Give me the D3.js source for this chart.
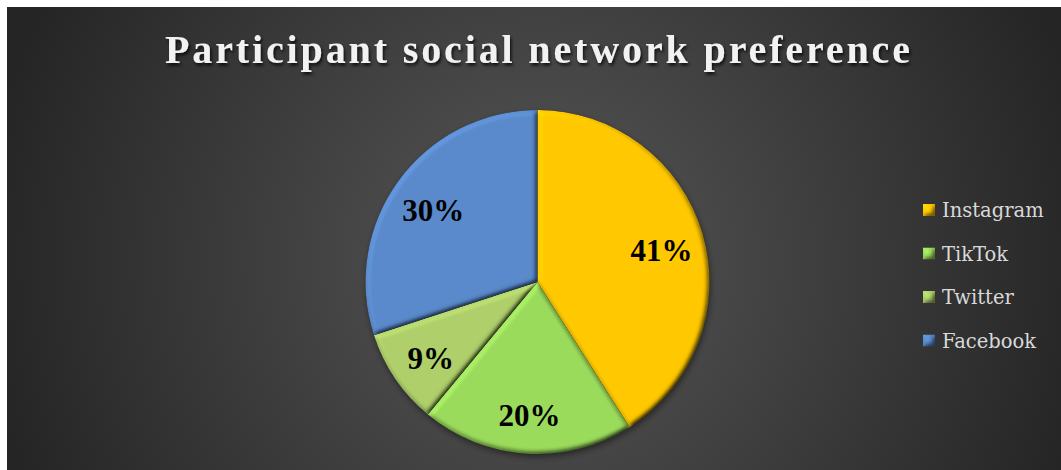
<!DOCTYPE html>
<html>
<head>
<meta charset="utf-8">
<script src="https://cdn.jsdelivr.net/npm/d3@7"></script>
<style>
  body{margin:0;background:#fff;}
  svg{display:block;}
</style>
</head>
<body>
<div id="chart"></div>
<script>
// data
const categories = ["Instagram", "TikTok", "Twitter", "Facebook"];
const values = [41, 20, 9, 30];
const title = "Participant social network preference";

let draw = function(){
    const width = 1061;
    const height = 470;
    const box = {x: 7, y: 7, w: 1054, h: 463};
    const cx = 537.5, cy = 282, radius = 172;

    const colorScale = d3.scaleOrdinal().domain(categories)
        .range(["#ffc800", "#9bdb5c", "#aecf6a", "#5a8acb"]);

    var svg = d3.select("#chart").append("svg").attr("width", width).attr("height", height);
    var defs = svg.append("defs");

    // background gradient
    var bg = defs.append("radialGradient").attr("id", "bg")
        .attr("gradientUnits", "userSpaceOnUse")
        .attr("cx", 540).attr("cy", 260).attr("r", 560);
    bg.append("stop").attr("offset", "0%").attr("stop-color", "#575757");
    bg.append("stop").attr("offset", "100%").attr("stop-color", "#252525");

    // bevel look on the slices
    var bevel = defs.append("filter").attr("id", "bevel")
        .attr("x", "-10%").attr("y", "-10%").attr("width", "120%").attr("height", "120%");
    bevel.append("feGaussianBlur").attr("in", "SourceAlpha").attr("stdDeviation", 2.5).attr("result", "blur");
    var light = bevel.append("feDiffuseLighting").attr("in", "blur").attr("surfaceScale", 4)
        .attr("lighting-color", "#ffffff").attr("result", "light");
    light.append("feDistantLight").attr("azimuth", 225).attr("elevation", 55);
    bevel.append("feComposite").attr("in", "light").attr("in2", "SourceAlpha").attr("operator", "in").attr("result", "lit");
    bevel.append("feComposite").attr("in", "SourceGraphic").attr("in2", "lit")
        .attr("operator", "arithmetic").attr("k1", 1.22).attr("k2", 0).attr("k3", 0).attr("k4", 0);

    var shadow = defs.append("filter").attr("id", "shadow")
        .attr("x", "-10%").attr("y", "-10%").attr("width", "130%").attr("height", "130%");
    shadow.append("feDropShadow").attr("dx", 1).attr("dy", 3).attr("stdDeviation", 3)
        .attr("flood-color", "#000").attr("flood-opacity", 0.45);

    var tshadow = defs.append("filter").attr("id", "tshadow")
        .attr("x", "-5%").attr("y", "-20%").attr("width", "110%").attr("height", "150%");
    tshadow.append("feDropShadow").attr("dx", 1.5).attr("dy", 2.5).attr("stdDeviation", 1.5)
        .attr("flood-color", "#000").attr("flood-opacity", 0.75);

    svg.append("rect").attr("x", box.x).attr("y", box.y).attr("width", box.w).attr("height", box.h)
        .attr("fill", "url(#bg)");

    // title
    svg.append("text").attr("x", 537.5).attr("y", 63)
        .attr("text-anchor", "middle")
        .attr("textLength", 745).attr("lengthAdjust", "spacing")
        .style("font-family", "'Liberation Serif', serif").style("font-weight", "bold")
        .style("font-size", "40px").attr("fill", "#f2f2f2")
        .attr("filter", "url(#tshadow)")
        .text(title);

    // pie
    var data = categories.map((c, i) => ({name: c, value: values[i]}));
    var pie = d3.pie().value(d => d.value).sort(null);
    var arc = d3.arc().innerRadius(0).outerRadius(radius);
    var labelArc = d3.arc().innerRadius(radius*0.75).outerRadius(radius*0.75);

    var g = svg.append("g").attr("transform", "translate(" + cx + "," + cy + ")")
        .attr("filter", "url(#shadow)");
    var slices = pie(data);
    g.selectAll("path").data(slices).enter().append("path")
        .attr("d", arc)
        .attr("fill", d => colorScale(d.data.name))
        .attr("filter", "url(#bevel)");

    svg.append("g").attr("transform", "translate(" + cx + "," + (cy + 4) + ")")
        .selectAll("text").data(slices).enter().append("text")
        .attr("transform", d => "translate(" + labelArc.centroid(d) + ")")
        .attr("text-anchor", "middle").attr("dy", "0.35em")
        .style("font-family", "'Liberation Serif', serif").style("font-weight", "bold")
        .style("font-size", "31px").attr("fill", "#000")
        .text(d => d.data.value + "%");

    // legend
    var legend = svg.append("g").selectAll("g").data(categories).enter().append("g")
        .attr("transform", (d, i) => "translate(923," + (210 + i*43.5) + ")");
    legend.append("rect").attr("x", 0).attr("y", -6).attr("width", 12).attr("height", 12)
        .attr("fill", d => colorScale(d)).attr("filter", "url(#bevel)");
    legend.append("text").attr("x", 19).attr("y", 7)
        .style("font-family", "'DejaVu Serif', serif").style("font-size", "19.5px")
        .attr("fill", "#d9d9d9")
        .text(d => d);
}
draw();
</script>
</body>
</html>
